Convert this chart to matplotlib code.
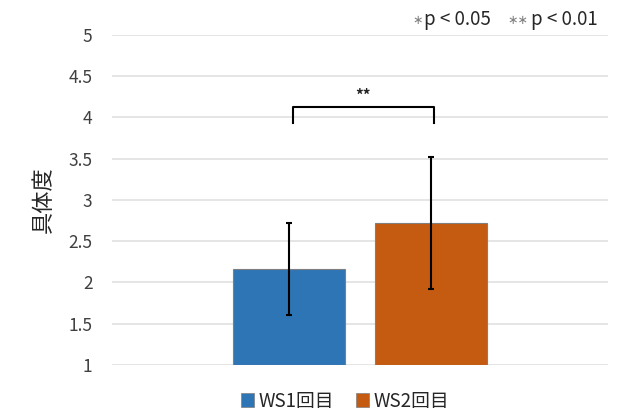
import matplotlib
matplotlib.use("Agg")
import matplotlib.pyplot as plt
from matplotlib.patches import Patch

plt.rcParams['font.family'] = ['Noto Sans CJK JP', 'DejaVu Sans']

series = ["WS1回目", "WS2回目"]
means = [2.16, 2.72]
errors = [0.56, 0.80]
colors = ["#2E75B6", "#C55A11"]
yticks = [1, 1.5, 2, 2.5, 3, 3.5, 4, 4.5, 5]
ytick_labels = ["1", "1.5", "2", "2.5", "3", "3.5", "4", "4.5", "5"]
ylabel = "具体度"
sig_label = "**"

fig = plt.figure(figsize=(6.4, 4.2), dpi=100)
ax = fig.add_axes([0.175, 0.131, 0.775, 0.786])

positions = [-0.143, 0.143]
width = 0.226
for x, m, e, c in zip(positions, means, errors, colors):
    ax.bar(x, m - 1, bottom=1, width=width, color=c, edgecolor="#7f7f7f",
           linewidth=0.8, zorder=3)
    ax.errorbar(x, m, yerr=e, fmt="none", ecolor="black", elinewidth=1.5,
                capsize=2, capthick=1.5, zorder=4)

ax.set_xlim(-0.5, 0.5)
ax.set_ylim(1, 5)
ax.set_yticks(yticks)
ax.set_yticklabels(ytick_labels, fontsize=12.5, color="#404040")
ax.set_xticks([])
ax.yaxis.grid(True, color="#e0e0e0", linewidth=1.2, zorder=0)
ax.set_axisbelow(True)
for s in ax.spines.values():
    s.set_visible(False)
ax.tick_params(axis="y", length=0, pad=14)
ax.set_ylabel(ylabel, fontsize=16, labelpad=10, color="#262626")

# significance bracket
x1, x2 = positions[0] + 0.008, positions[1] + 0.006
yb, yl = 4.12, 3.93
ax.plot([x1, x1, x2, x2], [yl, yb, yb, yl], color="black", lw=1.5,
        solid_joinstyle="round", clip_on=False, zorder=5)
ax.text((x1 + x2) / 2, yb + 0.04, sig_label, ha="center", va="bottom",
        fontsize=11, fontweight="bold", color="#262626")

# p-value note
fig.text(412 / 640, 1 - 21 / 420, "∗", ha="left", va="center", fontsize=9,
         color="#808080", family="DejaVu Sans")
fig.text(424 / 640, 1 - 20 / 420, "p < 0.05", ha="left", va="center", fontsize=13.5, color="#262626")
fig.text(507 / 640, 1 - 21 / 420, "∗∗", ha="left", va="center", fontsize=9,
         color="#808080", family="DejaVu Sans")
fig.text(531 / 640, 1 - 20 / 420, "p < 0.01", ha="left", va="center", fontsize=13.5, color="#262626")

handles = [Patch(facecolor=c, edgecolor="#7f7f7f", linewidth=0.5) for c in colors]
fig.legend(handles, series, loc="center", bbox_to_anchor=(345 / 640, 1 - 401 / 420),
           ncol=2, frameon=False, fontsize=13.5, handlelength=0.7, handleheight=0.7,
           handletextpad=0.2, columnspacing=1.2, labelcolor="#262626")

fig.savefig("out.png", dpi=100)
